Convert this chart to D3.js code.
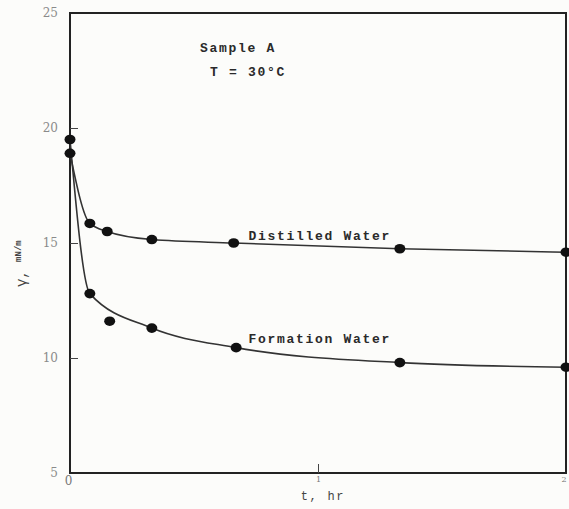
<!DOCTYPE html>
<html>
<head>
<meta charset="utf-8">
<script src="https://cdn.jsdelivr.net/npm/d3@7"></script>
<style>
  body { margin: 0; background: #fcfcfa; }
  svg { display: block; }
</style>
</head>
<body>
<div id="chart-container"></div>
<script>
// time (hr) and interfacial tension (mN/m)
const tDistilled = [0, 0.08, 0.15, 0.33, 0.66, 1.33, 2.0];
const gDistilled = [18.9, 15.85, 15.5, 15.15, 15.0, 14.75, 14.6];

const tFormation = [0, 0.08, 0.16, 0.33, 0.67, 1.33, 2.0];
const gFormation = [19.5, 12.8, 11.6, 11.3, 10.45, 9.8, 9.6];
// the third formation point sits off the drawn curve
const formationOnCurve = [true, true, false, true, true, true, true];

const yTicks = [5, 10, 15, 20, 25];
const xTicks = [0, 1, 2];

function drawChart() {
  const margin = { top: 13, right: 2, bottom: 36, left: 70 };
  const width = 569 - margin.left - margin.right;
  const height = 509 - margin.top - margin.bottom;

  const svg = d3
    .select("#chart-container")
    .append("svg")
    .attr("width", 569)
    .attr("height", 509)
    .append("g")
    .attr("transform", `translate(${margin.left}, ${margin.top})`);

  const x = d3.scaleLinear().domain([0, 2]).range([0, width - 1]);
  const y = d3.scaleLinear().domain([5, 25]).range([height, 0]);

  //frame
  svg
    .append("rect")
    .attr("width", width - 1)
    .attr("height", height)
    .attr("fill", "none")
    .attr("stroke", "#222")
    .attr("stroke-width", 2);

  //y axis, ticks pointing inward
  svg
    .append("g")
    .style("font-family", "DejaVu Serif, serif")
    .style("font-size", "12px")
    .call(d3.axisLeft(y).tickValues(yTicks).tickSizeInner(-8).tickSizeOuter(0).tickPadding(12))
    .call((g) => g.select(".domain").remove())
    .call((g) => g.selectAll(".tick line").attr("stroke", "#444"))
    .call((g) => g.selectAll(".tick text").attr("fill", "#8a8a8a"))
    .call((g) => g.selectAll(".tick").filter((d) => d === 5 || d === 25).select("line").remove());

  //x axis
  svg
    .append("g")
    .attr("transform", `translate(0, ${height})`)
    .style("font-family", "DejaVu Serif, serif")
    .style("font-size", "8px")
    .call(
      d3.axisBottom(x).tickValues(xTicks).tickFormat(d3.format("d"))
        .tickSizeInner(-9).tickSizeOuter(0).tickPadding(3)
    )
    .call((g) => g.select(".domain").remove())
    .call((g) => g.selectAll(".tick line").attr("stroke", "#444"))
    .call((g) => g.selectAll(".tick text").attr("fill", "#777"))
    .call((g) => g.selectAll(".tick").filter((d) => d !== 1).select("line").remove())
    .call((g) => g.selectAll(".tick").filter((d) => d === 0).select("text").style("font-size", "12px").attr("dx", "-2"))
    .call((g) => g.selectAll(".tick").filter((d) => d === 2).select("text").attr("text-anchor", "end"));

  const line = d3
    .line()
    .x((d) => x(d.t))
    .y((d) => y(d.g))
    .curve(d3.curveMonotoneX);

  const distilled = tDistilled.map((t, i) => ({ t: t, g: gDistilled[i] }));
  const formation = tFormation.map((t, i) => ({ t: t, g: gFormation[i], on: formationOnCurve[i] }));

  [distilled, formation.filter((d) => d.on)].forEach((data) => {
    svg
      .append("path")
      .datum(data)
      .attr("fill", "none")
      .attr("stroke", "#333")
      .attr("stroke-width", 1.6)
      .attr("d", line);
  });

  svg
    .selectAll(".pt")
    .data(distilled.concat(formation))
    .join("ellipse")
    .attr("cx", (d) => x(d.t))
    .attr("cy", (d) => y(d.g))
    .attr("rx", 5.5)
    .attr("ry", 4.8)
    .attr("fill", "#111");

  //labels
  const mono = (sel) =>
    sel
      .style("font-family", "Liberation Mono, monospace")
      .style("font-size", "13px")
      .style("font-weight", "bold")
      .style("letter-spacing", "1.7px")
      .style("fill", "#2a2a2a");

  svg.append("text").attr("x", x(0.524)).attr("y", y(23.3)).text("Sample A").call(mono);
  svg.append("text").attr("x", x(0.565)).attr("y", y(22.26)).text("T = 30°C").call(mono);
  svg.append("text").attr("x", x(0.72)).attr("y", y(15.13)).text("Distilled Water").call(mono);
  svg.append("text").attr("x", x(0.72)).attr("y", y(10.65)).text("Formation Water").call(mono);

  //x label
  svg
    .append("text")
    .attr("x", x(1.02))
    .attr("y", height + 27)
    .style("text-anchor", "middle")
    .text("t, hr")
    .call(mono)
    .style("font-size", "12px")
    .style("font-weight", "normal")
    .style("fill", "#444");

  //y label
  const yl = svg
    .append("text")
    .attr("transform", "rotate(-90)")
    .attr("x", -y(14.1))
    .attr("y", -44)
    .style("text-anchor", "middle")
    .style("font-family", "Liberation Mono, monospace")
    .style("fill", "#444");
  yl.append("tspan").style("font-size", "14px").text("γ, ");
  yl.append("tspan").style("font-size", "9px").style("font-weight", "bold").attr("dy", "-5").text("mN/m");
}

drawChart();
</script>
</body>
</html>
